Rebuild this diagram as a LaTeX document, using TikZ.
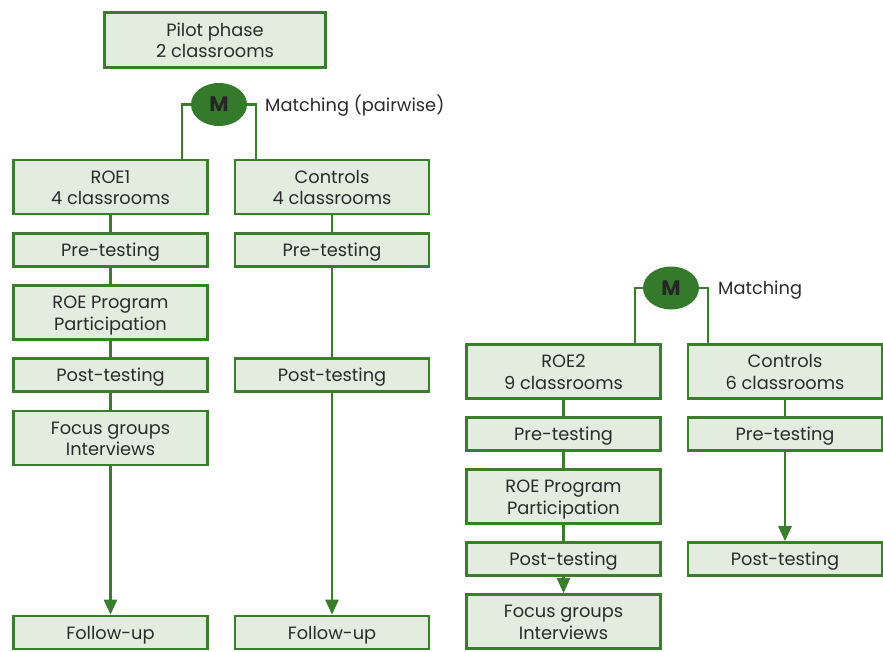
\documentclass[tikz,border=0pt]{standalone}
\usepackage{fontspec}
\setmainfont{Poppins}
\usetikzlibrary{arrows.meta,shapes.geometric}
\definecolor{bord}{HTML}{3A7D2C}
\definecolor{boxfill}{HTML}{E2ECDF}
\definecolor{mfill}{HTML}{357A2C}
\definecolor{txt}{HTML}{2B2B2B}
\newcommand\bt[1]{\raisebox{-2.5pt}[\height][\depth]{\begin{tabular}{@{}c@{}}#1\end{tabular}}}
\begin{document}
\begin{tikzpicture}[x=1pt,y=-1pt,
  box/.style={draw=bord,fill=boxfill,line width=2.6pt,minimum width=194pt,inner sep=0pt,text=txt,font=\fontsize{17.8}{21.5}\selectfont},
  tall/.style={box,minimum height=54pt},
  low/.style={box,minimum height=33pt},
  mnode/.style={ellipse,fill=mfill,minimum width=56pt,minimum height=43pt,inner sep=0pt,text=black!85,font=\fontsize{21}{22}\selectfont\bfseries},
  lbl/.style={anchor=west,inner sep=0pt,text=txt,font=\fontsize{17.8}{21.5}\selectfont},
  conn/.style={draw=bord,line width=2.6pt},
  arr/.style={conn,-{Triangle[length=15pt,width=13pt]}}]
\useasboundingbox (0,0) rectangle (883,652);
% left group
\node[box,minimum width=221pt,minimum height=55pt] (pilot) at (215,40) {\bt{Pilot phase\\2 classrooms}};
\node[mnode] (m1) at (219,104.5) {M};
\node[lbl] (lab1) at (265,106) {Matching (pairwise)};
\node[tall] (roe1) at (110.5,187) {\bt{ROE1\\4 classrooms}};
\node[tall] (c1) at (332,187) {\bt{Controls\\4 classrooms}};
\node[low] (pre1) at (110.5,250) {\bt{Pre-testing}};
\node[low] (prec1) at (332,250) {\bt{Pre-testing}};
\node[tall] (prog1) at (110.5,312.5) {\bt{ROE Program\\Participation}};
\node[low] (post1) at (110.5,375) {\bt{Post-testing}};
\node[low] (postc1) at (332,375) {\bt{Post-testing}};
\node[tall] (foc1) at (110.5,438) {\bt{Focus groups\\Interviews}};
\node[low] (fol1) at (110.5,632.5) {\bt{Follow-up}};
\node[low] (folc1) at (332,632.5) {\bt{Follow-up}};
% right group
\node[mnode] (m2) at (671,288) {M};
\node[lbl] (lab2) at (718,290) {Matching};
\node[tall] (roe2) at (563.5,371.5) {\bt{ROE2\\9 classrooms}};
\node[tall] (c2) at (785,371.5) {\bt{Controls\\6 classrooms}};
\node[low] (pre2) at (563.5,434) {\bt{Pre-testing}};
\node[low] (prec2) at (785,434) {\bt{Pre-testing}};
\node[tall] (prog2) at (563.5,496.5) {\bt{ROE Program\\Participation}};
\node[low] (post2) at (563.5,559) {\bt{Post-testing}};
\node[low] (postc2) at (785,559) {\bt{Post-testing}};
\node[tall] (foc2) at (563.5,621.5) {\bt{Focus groups\\Interviews}};
% connectors
\draw[conn] (m1.west) -| ([xshift=71.5pt]roe1.north);
\draw[conn] (m1.east) -| ([xshift=-76pt]c1.north);
\draw[conn] (roe1) -- (pre1);
\draw[conn] (pre1) -- (prog1);
\draw[conn] (prog1) -- (post1);
\draw[conn] (post1) -- (foc1);
\draw[arr] (foc1) -- (fol1);
\draw[conn] (c1) -- (prec1);
\draw[conn] (prec1) -- (postc1);
\draw[arr] (postc1) -- (folc1);
\draw[conn] (m2.west) -| ([xshift=71.5pt]roe2.north);
\draw[conn] (m2.east) -| ([xshift=-77pt]c2.north);
\draw[conn] (roe2) -- (pre2);
\draw[conn] (pre2) -- (prog2);
\draw[conn] (prog2) -- (post2);
\draw[arr] (post2) -- (foc2.north);
\draw[conn] (c2) -- (prec2);
\draw[arr] (prec2) -- (postc2);
\end{tikzpicture}
\end{document}
